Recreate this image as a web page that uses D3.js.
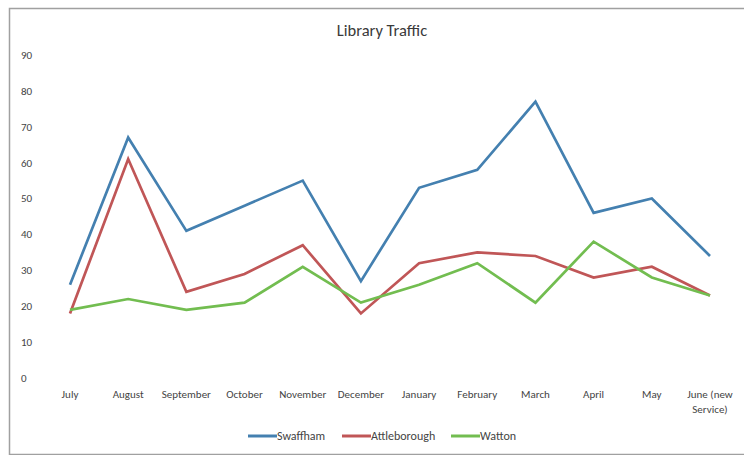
<!DOCTYPE html>
<html>
<head>
<meta charset="utf-8">
<script src="https://cdn.jsdelivr.net/npm/d3@7"></script>
<style>
  body { margin: 0; background: #fff; }
  svg { display: block; font-family: Carlito, Lato, "Open Sans", sans-serif; }
</style>
</head>
<body>
<div id="chart"></div>
<script>
const months = ["July", "August", "September", "October", "November", "December",
    "January", "February", "March", "April", "May", "June (new Service)"];

const swaffham = [26, 67, 41, 48, 55, 27, 53, 58, 77, 46, 50, 34];
const attleborough = [18, 61, 24, 29, 37, 18, 32, 35, 34, 28, 31, 23];
const watton = [19, 22, 19, 21, 31, 21, 26, 32, 21, 38, 28, 23];

const seriesNames = ["Swaffham", "Attleborough", "Watton"];
const yTicks = [0, 10, 20, 30, 40, 50, 60, 70, 80, 90];

const series = [
    { name: seriesNames[0], values: swaffham, color: "#4480b0" },
    { name: seriesNames[1], values: attleborough, color: "#c05657" },
    { name: seriesNames[2], values: watton, color: "#72bd50" },
];

const width = 744;
const height = 455;

const svg = d3.create("svg")
    .attr("width", width)
    .attr("height", height);

// frame (top + left + bottom edges as in the scan)
svg.append("path")
    .attr("d", `M744,8.5 H9.5 V454.5 H744`)
    .attr("fill", "none")
    .attr("stroke", "#a0a0a0")
    .attr("stroke-width", 1.5);

svg.append("text")
    .attr("x", 382)
    .attr("y", 36)
    .attr("text-anchor", "middle")
    .attr("font-size", "16.5px")
    .attr("fill", "#3a3a3a")
    .text("Library Traffic");

const x = d3.scalePoint()
    .domain(months)
    .range([70, 710]);

const y = d3.scaleLinear()
    .domain([0, 90])
    .range([378, 55]);

// y axis labels
svg.append("g")
    .selectAll("text")
    .data(yTicks)
    .join("text")
    .attr("x", 21)
    .attr("y", d => y(d))
    .attr("dy", "0.35em")
    .attr("font-size", "11px")
    .attr("fill", "#444")
    .text(d => d);

// x axis labels
const xLabels = svg.append("g")
    .selectAll("text")
    .data(months)
    .join("text")
    .attr("x", d => x(d))
    .attr("y", 398)
    .attr("text-anchor", "middle")
    .attr("font-size", "11px")
    .attr("fill", "#444");

xLabels.each(function (d) {
    const t = d3.select(this);
    if (d.startsWith("June")) {
        t.append("tspan").attr("x", x(d)).text("June (new");
        t.append("tspan").attr("x", x(d)).attr("dy", 15).text("Service)");
    } else {
        t.text(d);
    }
});

const line = d3.line()
    .x((d, i) => x(months[i]))
    .y(d => y(d));

svg.append("g")
    .selectAll("path")
    .data(series)
    .join("path")
    .attr("d", d => line(d.values))
    .attr("fill", "none")
    .attr("stroke", d => d.color)
    .attr("stroke-width", 2.7)
    .attr("stroke-linejoin", "miter");

// legend
const legendX = [248, 342, 451];
const legend = svg.append("g")
    .selectAll("g")
    .data(series)
    .join("g")
    .attr("transform", (d, i) => `translate(${legendX[i]},436)`);

legend.append("line")
    .attr("x1", 0)
    .attr("x2", 29)
    .attr("stroke", d => d.color)
    .attr("stroke-width", 3);

legend.append("text")
    .attr("x", 29)
    .attr("dy", "0.35em")
    .attr("font-size", "12px")
    .attr("fill", "#444")
    .text(d => d.name);

d3.select("#chart").node().append(svg.node());
</script>
</body>
</html>
